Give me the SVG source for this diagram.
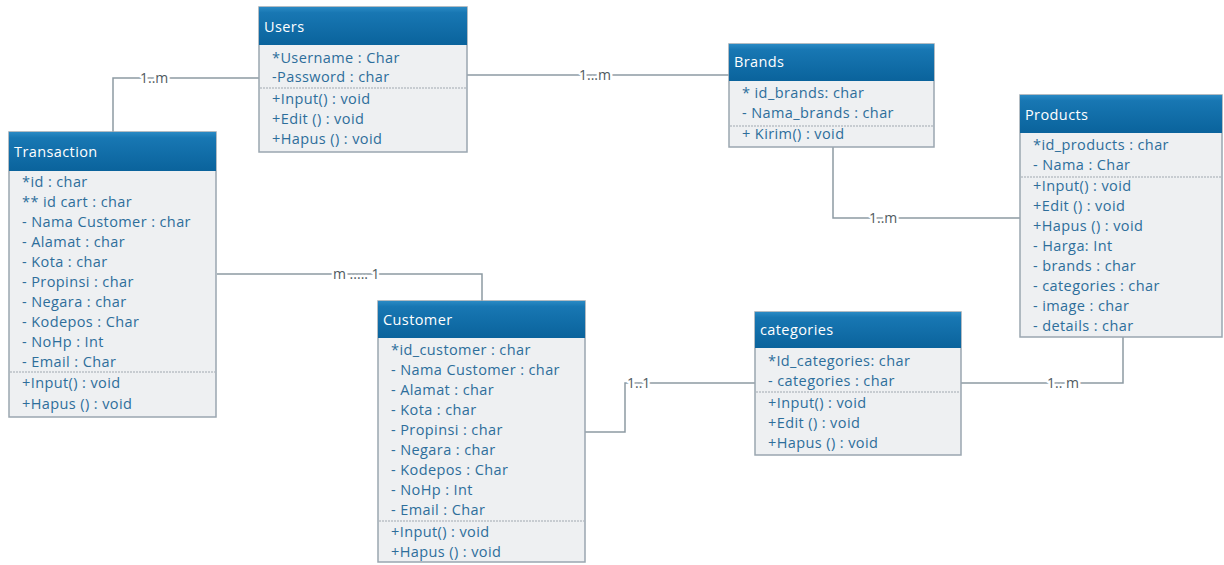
<svg xmlns="http://www.w3.org/2000/svg" width="1224" height="565" viewBox="0 0 1224 565">
<defs>
<linearGradient id="hdr" x1="0" y1="0" x2="0" y2="1">
<stop offset="0" stop-color="#2a8ac4"/>
<stop offset="0.15" stop-color="#1877b3"/>
<stop offset="1" stop-color="#0a639c"/>
</linearGradient>
<style>
.body{fill:#eef0f2;stroke:#9aa6b0;stroke-width:1.5}
.hd{fill:url(#hdr)}
.ht{font-family:"Open Sans","Liberation Sans",sans-serif;font-size:14.5px;letter-spacing:0.4px;fill:#ffffff}
.t{font-family:"Open Sans","Liberation Sans",sans-serif;font-size:14.5px;letter-spacing:0.4px;fill:#2d6e9b}
.dv{stroke:#a0a8b0;stroke-width:1;stroke-dasharray:2 1}
.cn{fill:none;stroke:#8d9aa3;stroke-width:1.5}
.lb{font-family:"Open Sans","Liberation Sans",sans-serif;font-size:14px;fill:#505a60;stroke:#ffffff;stroke-width:5px;paint-order:stroke;stroke-linejoin:round}
</style>
</defs>
<rect width="1224" height="565" fill="#ffffff"/>

<g id="connectors">
<path class="cn" d="M259 78 H113 V132"/>
<path class="cn" d="M467 75 H729"/>
<path class="cn" d="M833 147 V218 H1020"/>
<path class="cn" d="M217 274 H482 V301"/>
<path class="cn" d="M585 432 H625 V383 H755"/>
<path class="cn" d="M1123 337 V383 H961"/>
<text class="lb" x="140" y="83">1..m</text>
<text class="lb" x="579" y="80">1...m</text>
<text class="lb" x="869" y="223">1..m</text>
<text class="lb" x="333" y="279">m ..... 1</text>
<text class="lb" x="627" y="388">1..1</text>
<text class="lb" x="1047" y="388">1.. m</text>
</g>

<g id="users">
<rect class="body" x="259" y="7" width="208" height="145"/>
<rect class="hd" x="259" y="7" width="208" height="38"/>
<text class="ht" x="264" y="32">Users</text>
<text class="t" x="272" y="63">*Username : Char</text>
<text class="t" x="272" y="82">-Password : char</text>
<line class="dv" x1="260" y1="88" x2="466" y2="88"/>
<text class="t" x="272" y="104">+Input() : void</text>
<text class="t" x="272" y="124">+Edit () : void</text>
<text class="t" x="272" y="144">+Hapus () : void</text>
</g>

<g id="brands">
<rect class="body" x="729" y="44" width="205" height="103"/>
<rect class="hd" x="729" y="44" width="205" height="37"/>
<text class="ht" x="734" y="67">Brands</text>
<text class="t" x="742" y="98">* id_brands: char</text>
<text class="t" x="742" y="118">- Nama_brands : char</text>
<line class="dv" x1="730" y1="126" x2="933" y2="126"/>
<text class="t" x="742" y="139">+ Kirim() : void</text>
</g>

<g id="products">
<rect class="body" x="1020" y="95" width="202" height="242"/>
<rect class="hd" x="1020" y="95" width="202" height="38"/>
<text class="ht" x="1025" y="120">Products</text>
<text class="t" x="1033" y="150">*id_products : char</text>
<text class="t" x="1033" y="170">- Nama : Char</text>
<line class="dv" x1="1021" y1="177" x2="1221" y2="177"/>
<text class="t" x="1033" y="191">+Input() : void</text>
<text class="t" x="1033" y="211">+Edit () : void</text>
<text class="t" x="1033" y="231">+Hapus () : void</text>
<text class="t" x="1033" y="251">- Harga: Int</text>
<text class="t" x="1033" y="271">- brands : char</text>
<text class="t" x="1033" y="291">- categories : char</text>
<text class="t" x="1033" y="311">- image : char</text>
<text class="t" x="1033" y="331">- details : char</text>
</g>

<g id="transaction">
<rect class="body" x="9" y="132" width="207" height="285"/>
<rect class="hd" x="9" y="132" width="207" height="39"/>
<text class="ht" x="14" y="157">Transaction</text>
<text class="t" x="22" y="187">*id : char</text>
<text class="t" x="22" y="207">** id cart : char</text>
<text class="t" x="22" y="227">- Nama Customer : char</text>
<text class="t" x="22" y="247">- Alamat : char</text>
<text class="t" x="22" y="267">- Kota : char</text>
<text class="t" x="22" y="287">- Propinsi : char</text>
<text class="t" x="22" y="307">- Negara : char</text>
<text class="t" x="22" y="327">- Kodepos : Char</text>
<text class="t" x="22" y="347">- NoHp : Int</text>
<text class="t" x="22" y="367">- Email : Char</text>
<line class="dv" x1="10" y1="372" x2="215" y2="372"/>
<text class="t" x="22" y="388">+Input() : void</text>
<text class="t" x="22" y="409">+Hapus () : void</text>
</g>

<g id="customer">
<rect class="body" x="378" y="301" width="207" height="261"/>
<rect class="hd" x="378" y="301" width="207" height="37"/>
<text class="ht" x="383" y="325">Customer</text>
<text class="t" x="391" y="355">*id_customer : char</text>
<text class="t" x="391" y="375">- Nama Customer : char</text>
<text class="t" x="391" y="395">- Alamat : char</text>
<text class="t" x="391" y="415">- Kota : char</text>
<text class="t" x="391" y="435">- Propinsi : char</text>
<text class="t" x="391" y="455">- Negara : char</text>
<text class="t" x="391" y="475">- Kodepos : Char</text>
<text class="t" x="391" y="495">- NoHp : Int</text>
<text class="t" x="391" y="515">- Email : Char</text>
<line class="dv" x1="379" y1="521" x2="584" y2="521"/>
<text class="t" x="391" y="537">+Input() : void</text>
<text class="t" x="391" y="557">+Hapus () : void</text>
</g>

<g id="categories">
<rect class="body" x="755" y="312" width="206" height="143"/>
<rect class="hd" x="755" y="312" width="206" height="36"/>
<text class="ht" x="760" y="335">categories</text>
<text class="t" x="768" y="366">*Id_categories: char</text>
<text class="t" x="768" y="386">-  categories : char</text>
<line class="dv" x1="756" y1="392" x2="960" y2="392"/>
<text class="t" x="768" y="408">+Input() : void</text>
<text class="t" x="768" y="428">+Edit () : void</text>
<text class="t" x="768" y="448">+Hapus () : void</text>
</g>
</svg>
